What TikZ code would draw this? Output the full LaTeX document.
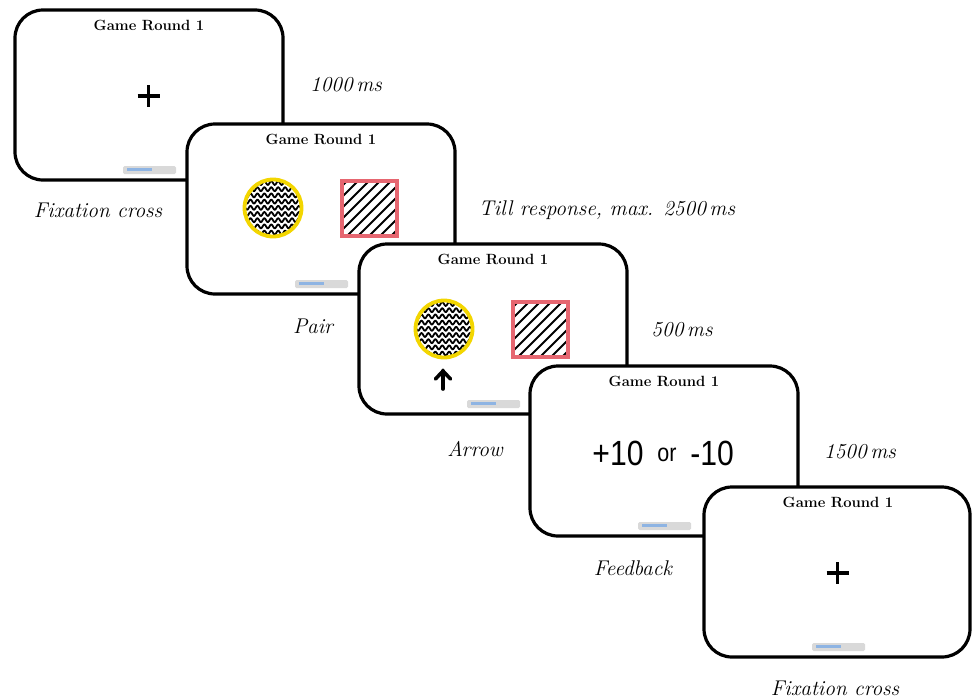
\documentclass[tikz,border=0pt]{standalone}
\usepackage{fontspec}
\newfontfamily\sansnum{Liberation Sans}
\usetikzlibrary{calc}
\definecolor{ringyellow}{RGB}{243,214,0}
\definecolor{boxpink}{RGB}{230,102,112}
\definecolor{barblue}{RGB}{142,180,227}
\definecolor{bargray}{RGB}{217,217,217}
\tikzset{
  screen/.style={draw=black, line width=3.2pt, fill=white, rounded corners=28pt,
    minimum width=268pt, minimum height=170pt, inner sep=0pt},
  gtitle/.style={font=\bfseries\fontsize{14.8}{16}\selectfont, inner sep=0pt},
  caption/.style={font=\itshape\fontsize{21.3}{25}\selectfont, inner sep=0pt},
  crossline/.style={line width=3.6pt, black},
  wave/.style={line width=1.8pt, black},
  hatch/.style={line width=2pt, black},
  bignum/.style={font=\sansnum\fontsize{35}{38}\selectfont, inner sep=0pt},
  smallword/.style={font=\sansnum\fontsize{25}{28}\selectfont, inner sep=0pt},
}
\newcommand{\gamebar}{%
  \fill[bargray, rounded corners=1.5pt] (108,156) rectangle (161,164);
  \fill[barblue] (112,157.7) rectangle (137,161.3);}
\newcommand{\gametitle}[1]{\node[gtitle] (#1) at (134,15) {Game Round 1};}
\newcommand{\gamecross}{%
  \draw[crossline] (122.5,86) -- (144.5,86);
  \draw[crossline] (133.5,75) -- (133.5,97);}
\newcommand{\wavecircle}[3]{%
  \begin{scope}
    \clip (#1,#2) circle (27.5);
    \foreach \r in {-25,-18.8,...,28}
      \draw[wave] plot[domain=-32:32, samples=129] ({#1+\x}, {#2+\r+1.9*sin(\x*52)});
  \end{scope}
  \draw[ringyellow, line width=3.8pt] (#1,#2) circle (28.5) node (#3) {};}
\newcommand{\hatchbox}[3]{%
  \begin{scope}[shift={(#1,#2)}]
    \begin{scope}
      \clip (0,0) rectangle (55,55);
      \foreach \c in {5,16,...,110}
        \draw[hatch] (\c+10,-10) -- (-10,\c+10);
    \end{scope}
    \draw[boxpink, line width=3.4pt] (0,0) rectangle (55,55);
    \coordinate (#3) at (27.5,27.5);
  \end{scope}}
\begin{document}
\begin{tikzpicture}[x=1pt,y=-1pt]
\useasboundingbox (0,0) rectangle (972,699);

% screen 1
\node[screen] (s1) at (149,95) {};
\begin{scope}[shift={(15,10)}]
  \gametitle{t1}
  \gamecross
  \gamebar
\end{scope}

% screen 2
\node[screen] (s2) at (321,209) {};
\begin{scope}[shift={(187,124)}]
  \gametitle{t2}
  \wavecircle{86}{84}{c2}
  \hatchbox{155}{57}{q2}
  \gamebar
\end{scope}

% screen 3
\node[screen] (s3) at (493,329) {};
\begin{scope}[shift={(359,244)}]
  \gametitle{t3}
  \wavecircle{85}{85}{c3}
  \hatchbox{154}{58}{q3}
  \coordinate (a3top) at (84,127);
  \coordinate (a3bot) at (84,145);
  \draw[line width=3.6pt, line cap=round] (a3bot) -- (a3top);
  \draw[line width=3.6pt, line cap=round, line join=miter] (76.5,135) -- (a3top) -- (91.5,135);
  \gamebar
\end{scope}

% screen 4
\node[screen] (s4) at (664,451) {};
\begin{scope}[shift={(530,366)}]
  \gametitle{t4}
  \node[bignum] (p10) at (88,87) {\scalebox{0.86}[1]{+10}};
  \node[smallword] (or4) at (137,89) {\scalebox{0.86}[1]{or}};
  \node[bignum] (m10) at (182,87) {\scalebox{0.86}[1]{-10}};
  \gamebar
\end{scope}

% screen 5
\node[screen, minimum width=266pt] (s5) at (837,572) {};
\begin{scope}[shift={(704,487)}]
  \gametitle{t5}
  \gamecross
  \gamebar
\end{scope}

% captions
\node[caption] (l1) at (346,85) {1000\,ms};
\node[caption] (l2) at (98,210) {Fixation cross};
\node[caption] (l3) at (607,210) {Till response, max. 2500\,ms};
\node[caption] (l4) at (313,326) {Pair};
\node[caption] (l5) at (682,330) {500\,ms};
\node[caption] (l6) at (475,449) {Arrow};
\node[caption] (l7) at (860,452) {1500\,ms};
\node[caption] (l8) at (633,568) {Feedback};
\node[caption] (l9) at (835,688) {Fixation cross};
\end{tikzpicture}
\end{document}
